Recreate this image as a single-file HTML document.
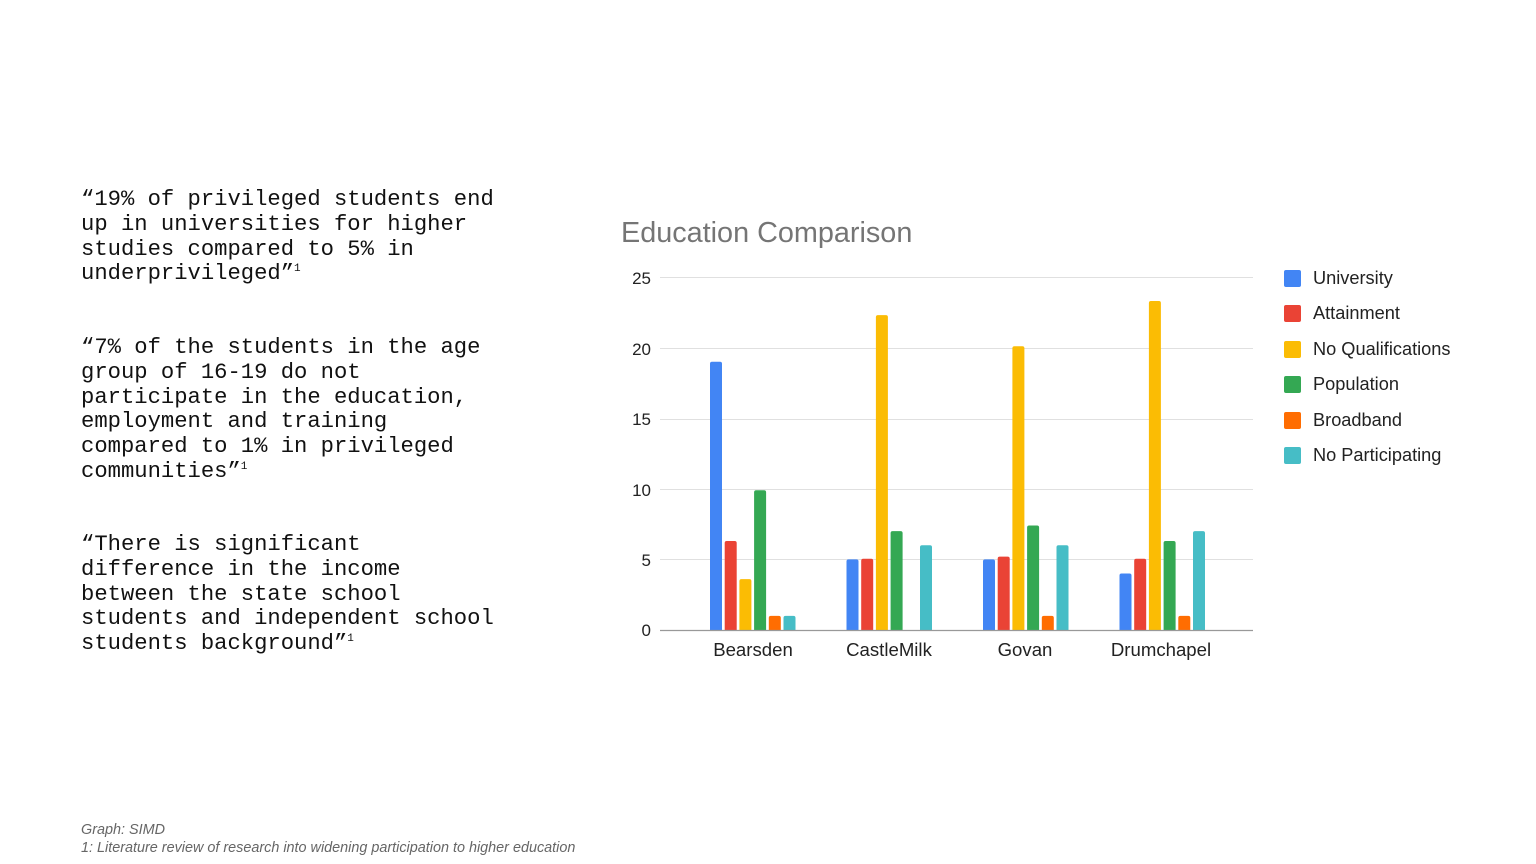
<!DOCTYPE html>
<html><head><meta charset="utf-8"><style>
html,body{margin:0;padding:0;background:#fff;}
body{width:1536px;height:864px;position:relative;overflow:hidden;}
.q{position:absolute;left:81px;font-family:"Liberation Mono",monospace;font-size:22.2px;line-height:24.8px;color:#111;white-space:pre;}
.q sup{font-size:11px;vertical-align:8px;line-height:0;}
.foot{position:absolute;left:81px;font-family:"Liberation Sans",sans-serif;font-style:italic;font-size:14.4px;color:#666;}
</style></head><body>
<div class="q" style="top:188px">“19% of privileged students end
up in universities for higher
studies compared to 5% in
underprivileged”<sup>1</sup></div>
<div class="q" style="top:336px">“7% of the students in the age
group of 16-19 do not
participate in the education,
employment and training
compared to 1% in privileged
communities”<sup>1</sup></div>
<div class="q" style="top:533px">“There is significant
difference in the income
between the state school
students and independent school
students background”<sup>1</sup></div>
<div class="foot" style="top:822px">Graph: SIMD</div>
<div class="foot" style="top:840px">1: Literature review of research into widening participation to higher education</div>
<svg id="c" width="1536" height="864" style="position:absolute;left:0;top:0" font-family="Liberation Sans, sans-serif">
<text x="621" y="242" font-size="28.8" fill="#757575">Education Comparison</text>
<g stroke="#e0e0e0" stroke-width="1">
<line x1="660" x2="1253" y1="277.5" y2="277.5"/>
<line x1="660" x2="1253" y1="348.5" y2="348.5"/>
<line x1="660" x2="1253" y1="419.5" y2="419.5"/>
<line x1="660" x2="1253" y1="489.5" y2="489.5"/>
<line x1="660" x2="1253" y1="559.5" y2="559.5"/>
</g>
<g font-size="17" fill="#222" text-anchor="end">
<text x="651" y="284">25</text><text x="651" y="355">20</text><text x="651" y="425">15</text>
<text x="651" y="496">10</text><text x="651" y="566">5</text><text x="651" y="636">0</text>
</g>
<g id="bars"></g>
<line x1="660" x2="1253" y1="630.5" y2="630.5" stroke="#999" stroke-width="1.3"/>
<g font-size="18.6" fill="#222" text-anchor="middle">
<text x="753" y="656">Bearsden</text><text x="889" y="656">CastleMilk</text>
<text x="1025" y="656">Govan</text><text x="1161" y="656">Drumchapel</text>
</g>
<g font-size="18.2" fill="#222">
<rect x="1284" y="270" width="17" height="17" rx="2" fill="#4285f4"/><text x="1313" y="284">University</text>
<rect x="1284" y="305" width="17" height="17" rx="2" fill="#ea4335"/><text x="1313" y="319">Attainment</text>
<rect x="1284" y="341" width="17" height="17" rx="2" fill="#fbbc04"/><text x="1313" y="355">No Qualifications</text>
<rect x="1284" y="376" width="17" height="17" rx="2" fill="#34a853"/><text x="1313" y="390">Population</text>
<rect x="1284" y="412" width="17" height="17" rx="2" fill="#ff6d01"/><text x="1313" y="426">Broadband</text>
<rect x="1284" y="447" width="17" height="17" rx="2" fill="#46bdc6"/><text x="1313" y="461">No Participating</text>
</g>
</svg>
<script>
var cols=["#4285f4","#ea4335","#fbbc04","#34a853","#ff6d01","#46bdc6"];
var data=[[19,6.3,3.6,9.9,1,1],[5,5.05,22.3,7,0,6],[5,5.2,20.1,7.4,1,6],[4,5.05,23.3,6.3,1,7]];
var starts=[710,846.5,983,1119.5];var s="";
for(var g=0;g<4;g++)for(var i=0;i<6;i++){var v=data[g][i];if(!v)continue;var h=v*14.12;
s+='<path d="M'+(starts[g]+i*14.7)+' 630V'+(630-h+2)+'q0 -2 2 -2h8q2 0 2 2V630Z" fill="'+cols[i]+'"/>';}
document.getElementById("bars").innerHTML=s;
</script>
</body></html>
